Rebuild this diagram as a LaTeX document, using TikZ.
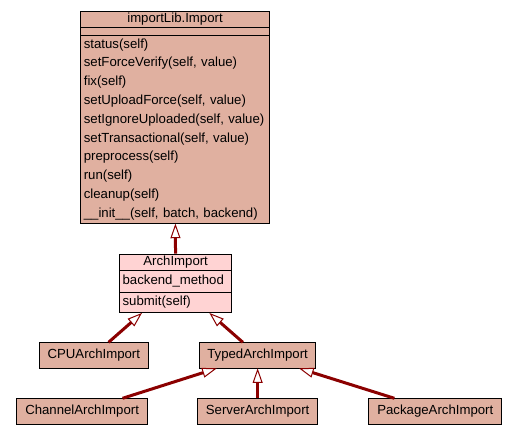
\documentclass[tikz,border=0pt]{standalone}
\usepackage{fontspec}
\setmainfont{Liberation Sans}
\usetikzlibrary{arrows.meta}
\usetikzlibrary{fit}
\usetikzlibrary{positioning}

\definecolor{clsfill}{HTML}{E0B0A0}
\definecolor{basefill}{HTML}{FFD3D3}
\definecolor{edgered}{HTML}{8B0000}

\tikzset{
  cls/.style={draw, fill=clsfill, line width=0.75pt, inner xsep=2.5pt, inner ysep=0pt,
    outer sep=0pt, anchor=north west, font=\fontsize{9.9}{14.1}\selectfont},
  isa/.style={draw=edgered, line width=2.25pt,
    -{Triangle[open, length=11pt, width=7.5pt, line width=0.75pt]}}
}

\begin{document}
\begin{tikzpicture}[x=0.75pt, y=-0.75pt]
  \useasboundingbox (0,0) rectangle (517,435);

  \node [cls, minimum width=141.75pt, minimum height=11.7pt] (impname) at (80.5,11.7) {importLib.Import};
  \node [cls, minimum width=141.75pt, minimum height=6pt, below=0pt of impname] (impattr) {};
  \node [cls, text width=136.75pt, align=left, minimum height=141pt, below=0pt of impattr] (impops)
    {status(self)\\setForceVerify(self, value)\\fix(self)\\setUploadForce(self, value)\\%
     setIgnoreUploaded(self, value)\\setTransactional(self, value)\\preprocess(self)\\run(self)\\%
     cleanup(self)\\\_\_init\_\_(self, batch, backend)};
  \node [fit={(impname) (impops)}, inner sep=0pt] (imp) {};

  \node [cls, fill=basefill, minimum width=84.5pt, minimum height=12.5pt] (archname) at (119.3,254) {ArchImport};
  \node [cls, fill=basefill, text width=79.5pt, align=left, minimum height=16pt, below=0pt of archname] (archattr) {backend\_method};
  \node [cls, fill=basefill, text width=79.5pt, align=left, minimum height=15.5pt, below=0pt of archattr] (archops) {submit(self)};
  \node [fit={(archname) (archops)}, inner sep=0pt] (arch) {};

  \node [cls, minimum width=87.5pt, minimum height=19.5pt] (typed) at (199.3,342.3) {TypedArchImport};
  \node [cls, minimum width=81.75pt, minimum height=19.5pt, left=38.25pt of typed] (cpu) {CPUArchImport};
  \node [cls, minimum width=90pt, minimum height=19.3pt, below=22.5pt of typed] (server) {ServerArchImport};
  \node [cls, minimum width=98.25pt, minimum height=19.3pt, left=37.5pt of server] (channel) {ChannelArchImport};
  \node [cls, minimum width=100pt, minimum height=19.3pt, right=38.25pt of server] (package) {PackageArchImport};

  \draw [isa] (arch) -- (imp);
  \draw [isa] (cpu) -- (arch);
  \draw [isa] (typed) -- (arch);
  \draw [isa] (channel) -- (typed);
  \draw [isa] (server) -- (typed);
  \draw [isa] (package) -- (typed);
\end{tikzpicture}
\end{document}
